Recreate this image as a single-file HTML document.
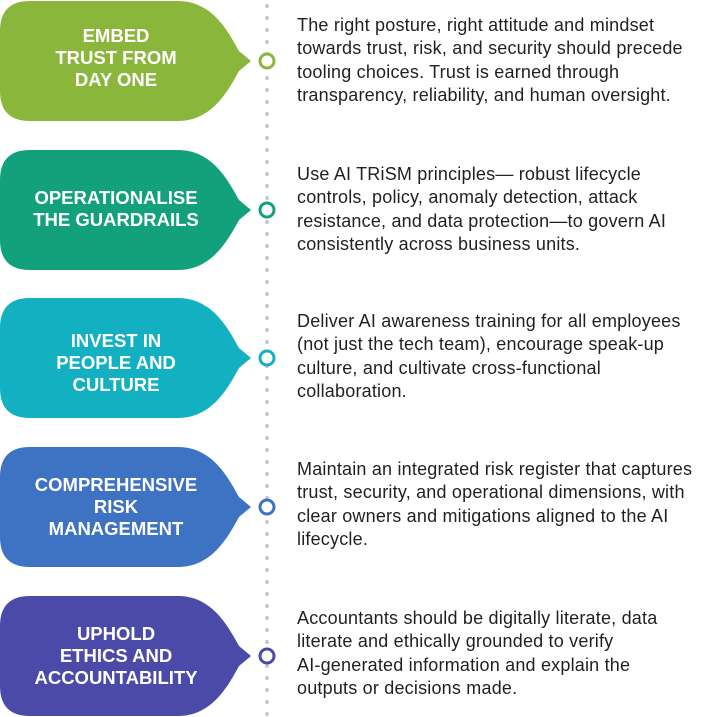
<!DOCTYPE html>
<html><head><meta charset="utf-8"><style>
body{margin:0;width:714px;height:717px;background:#fff;position:relative;overflow:hidden;font-family:"Liberation Sans",sans-serif}
.t{position:absolute;left:297px;font-size:18px;line-height:23.3px;color:#231f20;white-space:nowrap;letter-spacing:0.2px}
.h{position:absolute;left:0;width:232px;text-align:center;color:#fff;font-weight:bold;font-size:18.5px;line-height:22px;white-space:nowrap}
</style></head><body>
<svg width="714" height="717" style="position:absolute;left:0;top:0">
<defs>
<path id="s" d="M30,0 H178 C212,0 228,30 239,50 L251,60 L239,70 C228,90 212,120 178,120 H30 Q0,120 0,90 V30 Q0,0 30,0Z"/>
<pattern id="d" width="10" height="12" patternUnits="userSpaceOnUse" x="262" y="2"><circle cx="5" cy="4" r="2" fill="#c8c8c8"/></pattern>
</defs>
<rect x="262" y="0" width="10" height="717" fill="url(#d)"/>
<use href="#s" y="1" fill="#8ab73b"/>
<use href="#s" y="150" fill="#13a07d"/>
<use href="#s" y="298" fill="#13b0c1"/>
<use href="#s" y="447" fill="#3e72c2"/>
<use href="#s" y="596" fill="#4b4aa9"/>
<g fill="#fff" stroke-width="3">
<circle cx="267" cy="61" r="7" stroke="#8ab73b"/>
<circle cx="267" cy="210" r="7" stroke="#13a07d"/>
<circle cx="267" cy="358" r="7" stroke="#13b0c1"/>
<circle cx="267" cy="507" r="7" stroke="#3e72c2"/>
<circle cx="267" cy="656" r="7" stroke="#4b4aa9"/>
</g>
</svg>
<div class="h" style="top:25px">EMBED<br>TRUST FROM<br>DAY ONE</div>
<div class="h" style="top:187px">OPERATIONALISE<br>THE GUARDRAILS</div>
<div class="h" style="top:330px">INVEST IN<br>PEOPLE AND<br>CULTURE</div>
<div class="h" style="top:474px">COMPREHENSIVE<br>RISK<br>MANAGEMENT</div>
<div class="h" style="top:623px">UPHOLD<br>ETHICS AND<br>ACCOUNTABILITY</div>
<div class="t" style="top:14px">The right posture, right attitude and mindset<br>towards trust, risk, and security should precede<br>tooling choices. Trust is earned through<br>transparency, reliability, and human oversight.</div>
<div class="t" style="top:163px">Use AI TRiSM principles— robust lifecycle<br>controls, policy, anomaly detection, attack<br>resistance, and data protection—to govern AI<br>consistently across business units.</div>
<div class="t" style="top:310px">Deliver AI awareness training for all employees<br>(not just the tech team), encourage speak-up<br>culture, and cultivate cross-functional<br>collaboration.</div>
<div class="t" style="top:458px">Maintain an integrated risk register that captures<br>trust, security, and operational dimensions, with<br>clear owners and mitigations aligned to the AI<br>lifecycle.</div>
<div class="t" style="top:607px">Accountants should be digitally literate, data<br>literate and ethically grounded to verify<br>AI-generated information and explain the<br>outputs or decisions made.</div>
</body></html>
